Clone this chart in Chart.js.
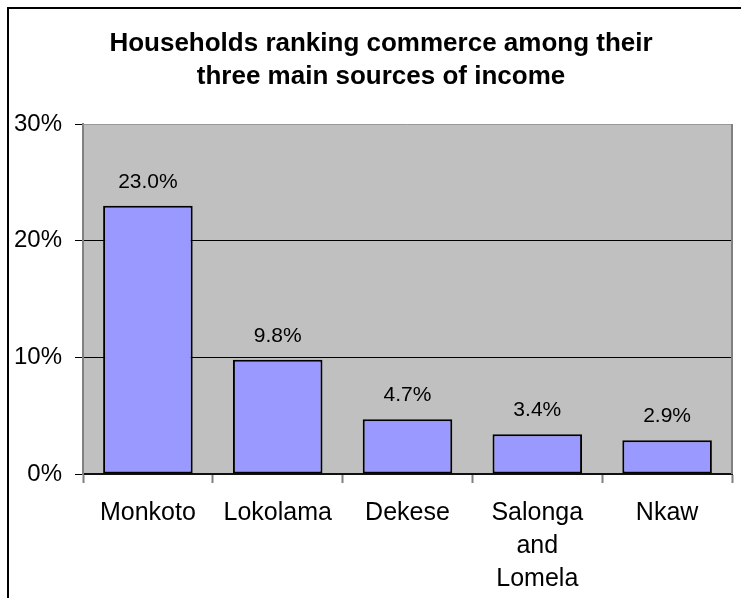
<!DOCTYPE html>
<html>
<head>
<meta charset="utf-8">
<script src="https://cdn.jsdelivr.net/npm/chart.js@4/dist/chart.umd.min.js"></script>
<style>
  html, body { margin: 0; padding: 0; background: #fff; }
  #canvas { display: block; }
</style>
</head>
<body>
<canvas id="canvas" width="741" height="598"></canvas>
<script>
const FONT = "'Liberation Sans', Arial, sans-serif";

const regions = ['Monkoto', 'Lokolama', 'Dekese', ['Salonga', 'and', 'Lomela'], 'Nkaw'];
const commerceShare = [23.0, 9.8, 4.7, 3.4, 2.9];
const yTicks = [0, 10, 20, 30];
const titleLines = ['Households ranking commerce among their', 'three main sources of income'];

// grey plot background + frame, outer black corner border, title
const frame = {
  id: 'frame',
  beforeDraw(chart) {
    const ctx = chart.ctx;
    const a = chart.chartArea;
    ctx.save();
    ctx.fillStyle = '#C0C0C0';
    ctx.fillRect(a.left, a.top, a.right - a.left, a.bottom - a.top);
    ctx.strokeStyle = '#000';
    ctx.lineWidth = 2;
    ctx.beginPath();
    ctx.moveTo(8, chart.height);
    ctx.lineTo(8, 8);
    ctx.lineTo(chart.width, 8);
    ctx.stroke();

    // title sits a little right of the canvas centre
    ctx.font = 'bold 26px ' + FONT;
    ctx.fillStyle = '#000';
    ctx.textAlign = 'center';
    ctx.textBaseline = 'alphabetic';
    titleLines.forEach((line, i) => ctx.fillText(line, 381, 51 + i * 33));
    ctx.restore();
  },
  beforeDatasetsDraw(chart) {
    const ctx = chart.ctx;
    const a = chart.chartArea;
    ctx.save();
    ctx.strokeStyle = '#999';
    ctx.lineWidth = 1;
    ctx.beginPath();
    ctx.moveTo(a.left, a.top + 0.5);
    ctx.lineTo(a.right, a.top + 0.5);
    ctx.stroke();
    ctx.strokeStyle = '#808080';
    ctx.lineWidth = 2;
    ctx.beginPath();
    ctx.moveTo(a.right, a.top);
    ctx.lineTo(a.right, a.bottom);
    ctx.stroke();
    ctx.restore();
  }
};

// value labels above each bar
const valueLabels = {
  id: 'valueLabels',
  afterDatasetsDraw(chart) {
    const ctx = chart.ctx;
    const meta = chart.getDatasetMeta(0);
    ctx.save();
    ctx.font = '21px ' + FONT;
    ctx.fillStyle = '#000';
    ctx.textAlign = 'center';
    ctx.textBaseline = 'alphabetic';
    meta.data.forEach((bar, i) => {
      ctx.fillText(commerceShare[i].toFixed(1) + '%', bar.x, bar.y - 18);
    });
    ctx.restore();
  }
};

new Chart(document.getElementById('canvas'), {
  type: 'bar',
  data: {
    labels: regions,
    datasets: [{
      data: commerceShare,
      backgroundColor: '#9999FF',
      borderColor: '#000',
      borderWidth: 2,
      borderSkipped: false,
      categoryPercentage: 1,
      barPercentage: 0.69
    }]
  },
  options: {
    responsive: false,
    animation: false,
    layout: { padding: { left: 8, right: 9, top: 124, bottom: 0 } },
    plugins: {
      legend: { display: false },
      tooltip: { enabled: false },
      title: { display: false }
    },
    scales: {
      x: {
        grid: {
          offset: true,
          drawOnChartArea: false,
          drawTicks: true,
          tickLength: 9,
          tickColor: '#808080',
          tickWidth: 2
        },
        border: { color: '#111', width: 2 },
        ticks: {
          color: '#000',
          padding: 14,
          maxRotation: 0,
          autoSkip: false,
          font: { family: FONT, size: 25, lineHeight: 1.32 }
        },
        afterFit(scale) { scale.height = 124; }
      },
      y: {
        min: 0,
        max: 30,
        afterBuildTicks(scale) { scale.ticks = yTicks.map(v => ({ value: v })); },
        grid: {
          color: ctx => (ctx.tick && ctx.tick.value > 0 && ctx.tick.value < 30) ? '#000' : 'rgba(0,0,0,0)',
          lineWidth: 1,
          tickLength: 8,
          tickColor: '#000',
          tickWidth: 1
        },
        border: { color: '#808080', width: 2 },
        ticks: {
          color: '#000',
          padding: 13,
          font: { family: FONT, size: 24 },
          callback: v => v + '%'
        },
        afterFit(scale) { scale.width = 75; }
      }
    }
  },
  plugins: [frame, valueLabels]
});
</script>
</body>
</html>
